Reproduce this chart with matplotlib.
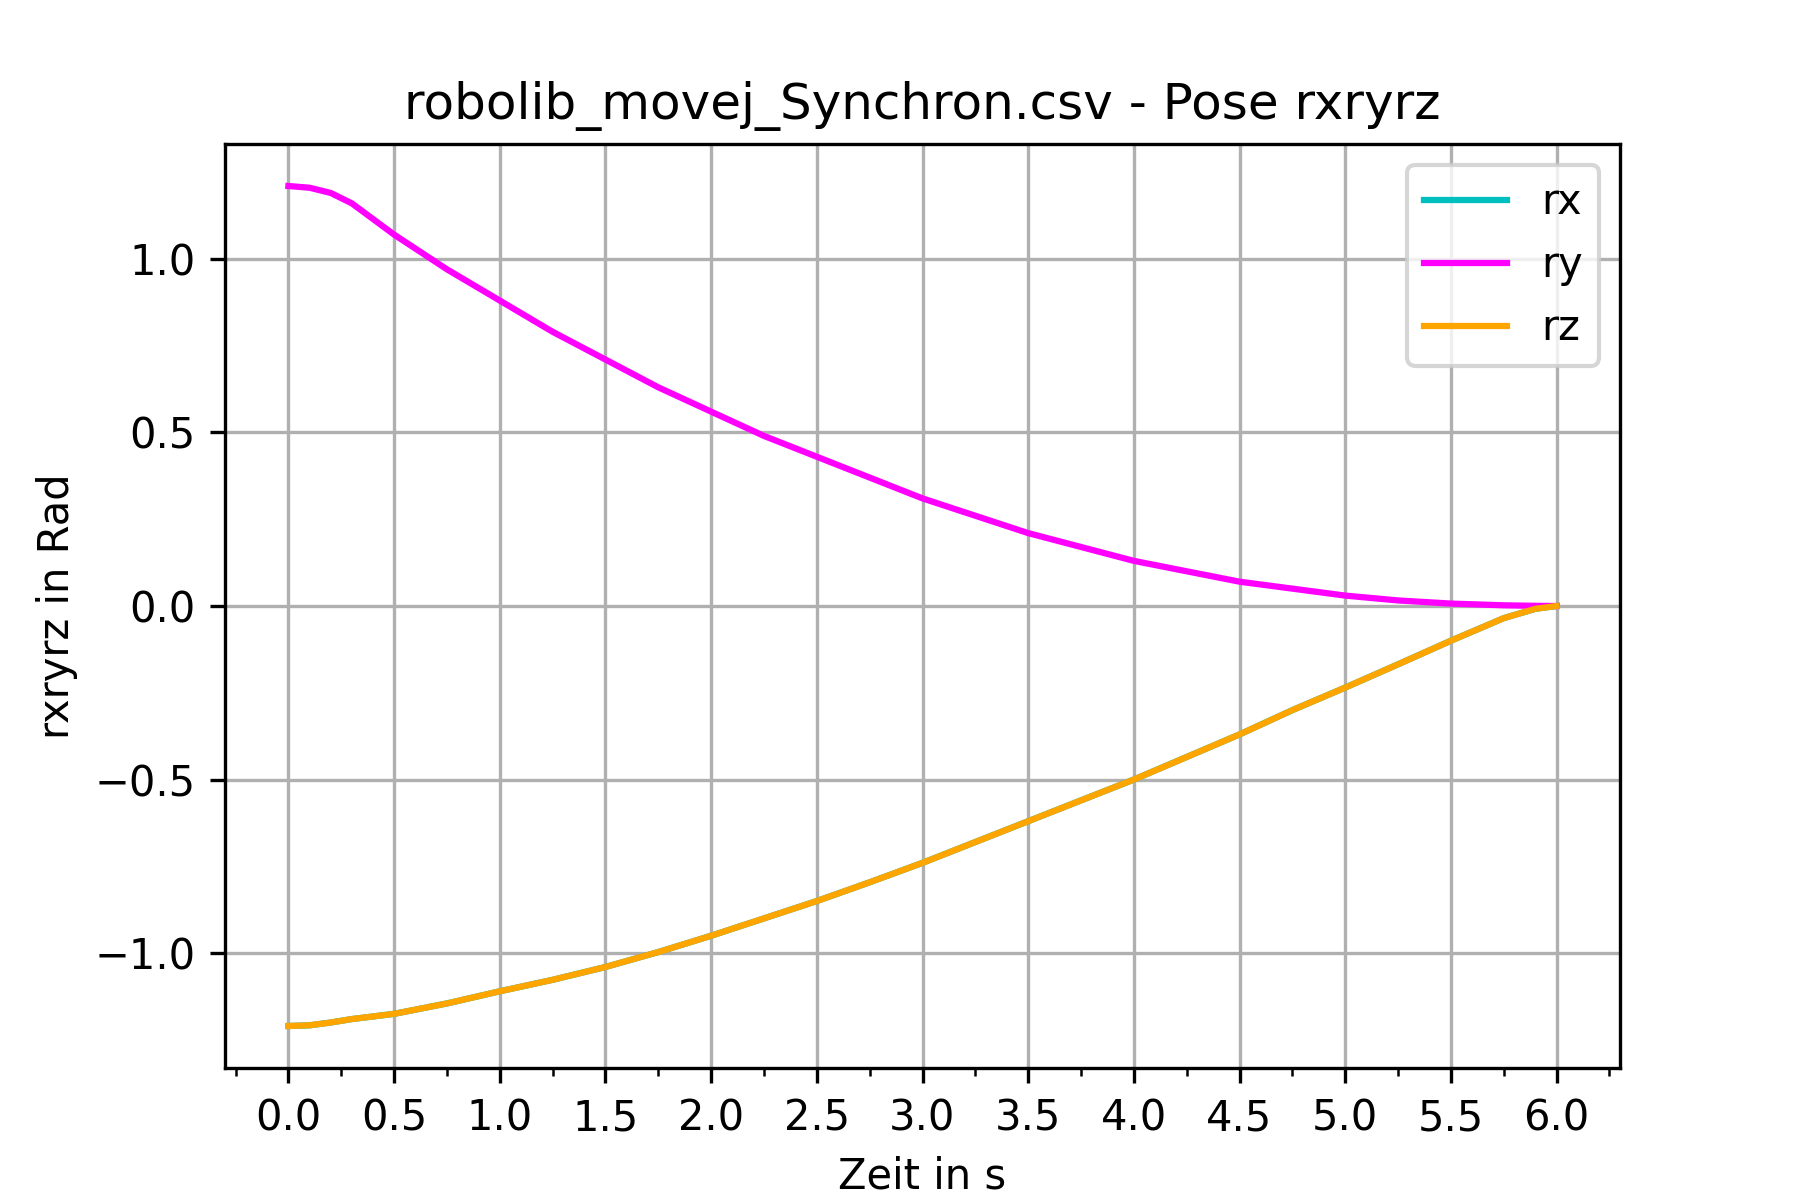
import matplotlib
matplotlib.use("Agg")
import matplotlib.pyplot as plt
from matplotlib.ticker import MultipleLocator

t = [0.0, 0.1, 0.2, 0.3, 0.5, 0.75, 1.0, 1.25, 1.5, 1.75, 2.0, 2.25, 2.5, 2.75, 3.0, 3.25, 3.5, 3.75, 4.0, 4.25, 4.5, 4.75, 5.0, 5.25, 5.5, 5.75, 5.9, 6.0]
ry = [1.21, 1.205, 1.19, 1.16, 1.07, 0.97, 0.88, 0.79, 0.71, 0.63, 0.56, 0.49, 0.43, 0.37, 0.31, 0.26, 0.21, 0.17, 0.13, 0.10, 0.07, 0.05, 0.03, 0.016, 0.007, 0.002, 0.0005, 0.0]
rz = [-1.21, -1.208, -1.20, -1.19, -1.175, -1.145, -1.11, -1.077, -1.04, -0.997, -0.95, -0.90, -0.85, -0.796, -0.74, -0.68, -0.62, -0.56, -0.50, -0.435, -0.37, -0.30, -0.235, -0.168, -0.10, -0.035, -0.008, 0.0]
rx = rz

fig, ax = plt.subplots(figsize=(6, 4), dpi=300)
ax.plot(t, rx, color="c", label="rx")
ax.plot(t, ry, color="magenta", label="ry")
ax.plot(t, rz, color="orange", label="rz")
ax.set_title("robolib_movej_Synchron.csv - Pose rxryrz")
ax.set_xlabel("Zeit in s")
ax.set_ylabel("rxryrz in Rad")
ax.xaxis.set_major_locator(MultipleLocator(0.5))
ax.xaxis.set_minor_locator(MultipleLocator(0.25))
ax.grid(True)
ax.legend(loc="upper right")
fig.savefig("out.png")
